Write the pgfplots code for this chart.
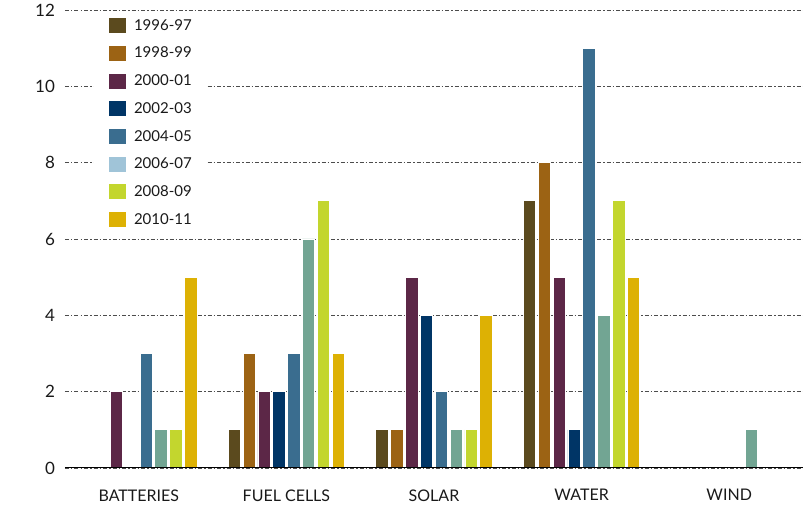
\documentclass[border=0pt]{standalone}
\usepackage{pgfplots}
\pgfplotsset{compat=1.18}
\usepackage{fontspec}
\setmainfont{Lato}

% series colours
\definecolor{cA}{HTML}{5B4A1E}
\definecolor{cB}{HTML}{9C6314}
\definecolor{cC}{HTML}{5C2747}
\definecolor{cD}{HTML}{003566}
\definecolor{cE}{HTML}{3A6D8F}
\definecolor{cF}{HTML}{72A593}
\definecolor{cFkey}{HTML}{A0C4D8}
\definecolor{cG}{HTML}{C3D62E}
\definecolor{cH}{HTML}{DDB104}

\pgfplotsset{
  sq/.style={legend image code/.code={\fill[#1] (0pt,-7pt) rectangle (16pt,7pt);}},
  bar/.style={fill=#1, draw=white, line width=0.8pt, sq=#1},
}

\begin{document}
\begin{tikzpicture}
\begin{axis}[
  scale only axis,
  width=738pt, height=458pt,
  xmin=-0.5, xmax=4.5, ymin=0, ymax=12,
  ybar=2.46pt, bar width=12.4pt,
  axis line style={draw=none},
  major tick length=0pt,
  xtick={0,1,2,3,4},
  xticklabels={BATTERIES, FUEL CELLS, SOLAR, WATER, WIND},
  ytick={0,2,...,12},
  ymajorgrids,
  grid style={dash pattern=on 4pt off 2pt on 1.5pt off 2pt, black!70, line width=0.8pt},
  /pgf/number format/assume math mode=true,
  xticklabel style={font=\fontsize{16}{19}\selectfont, text=black!90, yshift=-18pt},
  yticklabel style={font=\fontsize{17}{20}\selectfont, text=black!90, xshift=-6.5pt},
  legend cell align=left,
  legend style={
    at={(axis description cs:0.0393,0.9956)}, anchor=north west,
    draw=none, fill=white, inner xsep=15pt, inner ysep=6pt,
    font=\fontsize{15}{17}\selectfont, text=black!90,
    row sep=12.9pt,
    nodes={inner sep=0pt},
    /tikz/every odd column/.append style={column sep=8pt},
  },
]
\addplot[bar=cA] coordinates {(1,1) (2,1) (3,7)};
\addlegendentry{1996-97}
\addplot[bar=cB] coordinates {(1,3) (2,1) (3,8)};
\addlegendentry{1998-99}
\addplot[bar=cC] coordinates {(0,2) (1,2) (2,5) (3,5)};
\addlegendentry{2000-01}
\addplot[bar=cD] coordinates {(1,2) (2,4) (3,1)};
\addlegendentry{2002-03}
\addplot[bar=cE] coordinates {(0,3) (1,3) (2,2) (3,11)};
\addlegendentry{2004-05}
\addplot[fill=cF, draw=white, line width=0.8pt, sq=cFkey] coordinates {(0,1) (1,6) (2,1) (3,4) (4,1)};
\addlegendentry{2006-07}
\addplot[bar=cG] coordinates {(0,1) (1,7) (2,1) (3,7)};
\addlegendentry{2008-09}
\addplot[bar=cH] coordinates {(0,5) (1,3) (2,4) (3,5)};
\addlegendentry{2010-11}

% baseline
\draw[line width=2pt, black] (rel axis cs:0,0) -- (rel axis cs:1,0);
% vertical axis title
\node[rotate=90, font=\fontsize{14}{16}\selectfont, text=black!65]
  at (rel axis cs:-0.065,0.557) {NUMBER OF CLEAN TECHNOLOGY PATENTS};
\end{axis}
\pgfresetboundingbox
\path[use as bounding box] (-65pt,-40pt) rectangle (738pt,468pt);
\end{tikzpicture}
\end{document}
